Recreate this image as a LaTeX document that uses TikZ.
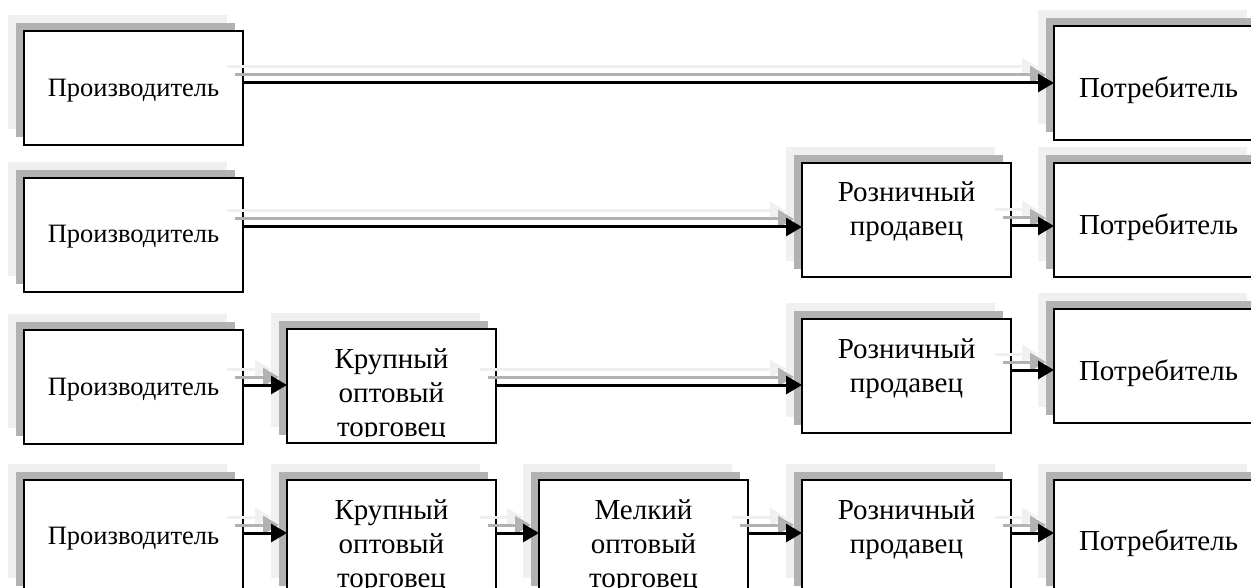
\documentclass[tikz,border=0pt]{standalone}
\usepackage{fontspec}
\setmainfont{Liberation Serif}
\usetikzlibrary{arrows.meta,calc}
\definecolor{shL}{gray}{0.94}
\definecolor{shD}{gray}{0.70}
\tikzset{
  box/.style={draw=black, line width=1.5pt, fill=white, minimum height=114pt,
    anchor=north west, inner sep=0pt, outer sep=0pt},
  txt/.style={font=\fontsize{29}{34}\selectfont, inner sep=0pt, anchor=base},
  ptxt/.style={txt, font=\fontsize{26.5}{34}\selectfont},
  arr/.style={line width=3pt, -{Triangle[length=16pt,width=18pt]}},
}
\newcommand\shbox[4]{% name, x, top, width
  \fill[shL] (#2-16,#3-16) rectangle ++(#4,114);
  \fill[shD] (#2-8,#3-8) rectangle ++(#4,114);
  \node[box, minimum width=#4 pt] (#1) at (#2,#3) {};
}
\newcommand\conn[3]{% from, to, y-coordinate
  \draw[arr, shL, transform canvas={shift={(-16pt,16pt)}}] (#1.east |- #3) -- (#2.west |- #3);
  \draw[arr, shD, transform canvas={shift={(-8pt,8pt)}}] (#1.east |- #3) -- (#2.west |- #3);
  \draw[arr, black] (#1.east |- #3) -- (#2.west |- #3);
}
\newcommand\ml[1]{\begin{tabular}[t]{@{}c@{}}#1\end{tabular}}
\begin{document}
\begin{tikzpicture}[x=1pt,y=-1pt]
\useasboundingbox (0,0) rectangle (1251,588);
\clip (0,0) rectangle (1251,588);
% row 1
\shbox{p1}{24}{31}{219}
\shbox{c1}{1054}{26}{209}
% row 2
\shbox{p2}{24}{178}{219}
\shbox{r2}{802}{163}{209}
\shbox{c2}{1054}{163}{209}
% row 3
\shbox{p3}{24}{330}{219}
\shbox{k3}{287}{329}{209}
\shbox{r3}{802}{319}{209}
\shbox{c3}{1054}{309}{209}
% row 4
\shbox{p4}{24}{480}{219}
\shbox{k4}{287}{480}{209}
\shbox{m4}{539}{480}{209}
\shbox{r4}{802}{480}{209}
\shbox{c4}{1054}{480}{209}
% texts
\node[ptxt] (tp1) at ($(p1.north)+(0,66)$) {Производитель};
\node[txt] (tc1) at ($(c1.north)+(0,72)$) {Потребитель};
\node[ptxt] (tp2) at ($(p2.north)+(0,65)$) {Производитель};
\node[txt] (tr2) at ($(r2.north)+(0,39)$) {\ml{Розничный\\продавец}};
\node[txt] (tc2) at ($(c2.north)+(0,72)$) {Потребитель};
\node[ptxt] (tp3) at ($(p3.north)+(0,65)$) {Производитель};
\begin{scope}
\clip (k3.north west) rectangle ($(k3.south east)+(0,-7)$);
\node[txt] (tk3) at ($(k3.north)+(0,39)$) {\ml{Крупный\\оптовый\\торговец}};
\end{scope}
\node[txt] (tr3) at ($(r3.north)+(0,39)$) {\ml{Розничный\\продавец}};
\node[txt] (tc3) at ($(c3.north)+(0,71)$) {Потребитель};
\node[ptxt] (tp4) at ($(p4.north)+(0,64)$) {Производитель};
\node[txt] (tk4) at ($(k4.north)+(0,39)$) {\ml{Крупный\\оптовый\\торговец}};
\node[txt] (tm4) at ($(m4.north)+(0,39)$) {\ml{Мелкий\\оптовый\\торговец}};
\node[txt] (tr4) at ($(r4.north)+(0,39)$) {\ml{Розничный\\продавец}};
\node[txt] (tc4) at ($(c4.north)+(0,70)$) {Потребитель};
% arrow levels
\coordinate (a1) at (0,83);
\coordinate (a2) at (0,227);
\coordinate (a2b) at (0,226);
\coordinate (a3) at (0,385);
\coordinate (a3b) at (0,370);
\coordinate (a4) at (0,533);
% connectors
\conn{p1}{c1}{a1}
\conn{p2}{r2}{a2}
\conn{r2}{c2}{a2b}
\conn{p3}{k3}{a3}
\conn{k3}{r3}{a3}
\conn{r3}{c3}{a3b}
\conn{p4}{k4}{a4}
\conn{k4}{m4}{a4}
\conn{m4}{r4}{a4}
\conn{r4}{c4}{a4}
\end{tikzpicture}
\end{document}
